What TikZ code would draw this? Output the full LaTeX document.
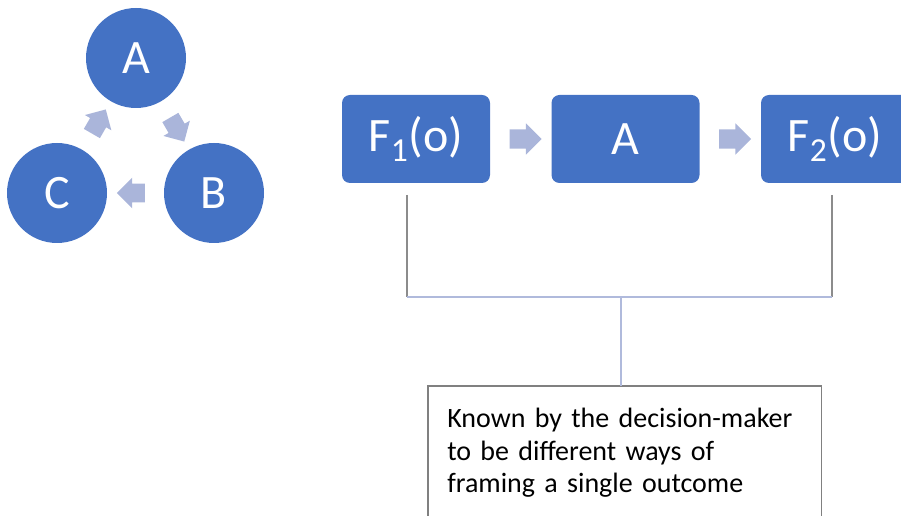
\documentclass[tikz,border=0pt]{standalone}
\usepackage{fontspec}
\setmainfont{Carlito}
\usetikzlibrary{shapes.arrows, calc}

\definecolor{nodeblue}{HTML}{4472C4}
\definecolor{arrowblue}{HTML}{AAB5DA}
\definecolor{leggray}{HTML}{8C8C8C}
\definecolor{lineblue}{HTML}{B0BADC}
\definecolor{notegray}{HTML}{808080}

\begin{document}
\begin{tikzpicture}[x=0.75pt, y=-0.75pt,
    cyclenode/.style={circle, fill=nodeblue, text=white, minimum size=75pt, inner sep=0pt,
        font=\fontsize{36}{42}\selectfont},
    framebox/.style={rectangle, rounded corners=6pt, fill=nodeblue, text=white,
        minimum width=111pt, minimum height=66pt, inner sep=0pt, font=\fontsize{36}{42}\selectfont},
    smallarrow/.style={single arrow, fill=arrowblue, inner sep=6.75pt, minimum height=20pt,
        single arrow head extend=4.5pt},
    bigarrow/.style={single arrow, fill=arrowblue, inner sep=7pt, minimum height=24pt,
        single arrow head extend=4.5pt},
    legline/.style={draw=leggray, line width=1pt},
    joinline/.style={draw=lineblue, line width=1pt},
    notetext/.style={align=left, text width=266pt, inner xsep=14.25pt, inner ysep=16.5pt,
        font=\fontsize{21}{24.4}\selectfont},
    notebox/.style={draw=notegray, line width=1pt}]

% Page area
\clip (0,0) rectangle (901,516);

% Cycle of A, B and C
\node[cyclenode] (ca) at (136,58) {A};
\node[cyclenode] (cb) at (214,193) {B};
\node[cyclenode] (cc) at (57,193) {C};
\foreach \s/\t/\ang in {ca/cb/-60, cb/cc/180, cc/ca/60} {
    \node[smallarrow, rotate=\ang] (arr-\s) at ($(\s)!0.5!(\t)$) {};
}

% Framings and the act
\node[framebox] (fone) at (416,139) {F\textsubscript{1}(o)};
\node[framebox] (act) at (625.5,139) {A};
\node[framebox] (ftwo) at (835,139) {F\textsubscript{2}(o)};
\node[bigarrow] (arr-one) at ($(fone.east)!0.5!(act.west)$) {};
\node[bigarrow] (arr-two) at ($(act.east)!0.5!(ftwo.west)$) {};

% Bracket joining the two framings
\coordinate (legone) at (407,195);
\coordinate (legtwo) at (832,195);
\coordinate (footone) at (407,297);
\coordinate (foottwo) at (832,297);
\coordinate (mid) at (621,297);
\draw[legline] (legone) -- (footone);
\draw[legline] (legtwo) -- (foottwo);
\draw[joinline] (footone) -- (foottwo);

% Note box
\node[notetext, anchor=north west] (note) at (428,386)
    {Known by the decision-maker\\to be different ways of\\framing a single outcome};
\draw[notebox] ([yshift=-40pt]note.south west) |- (note.north east) -- ([yshift=-40pt]note.south east);
\draw[joinline] (mid) -- (mid |- note.north);
\end{tikzpicture}
\end{document}
